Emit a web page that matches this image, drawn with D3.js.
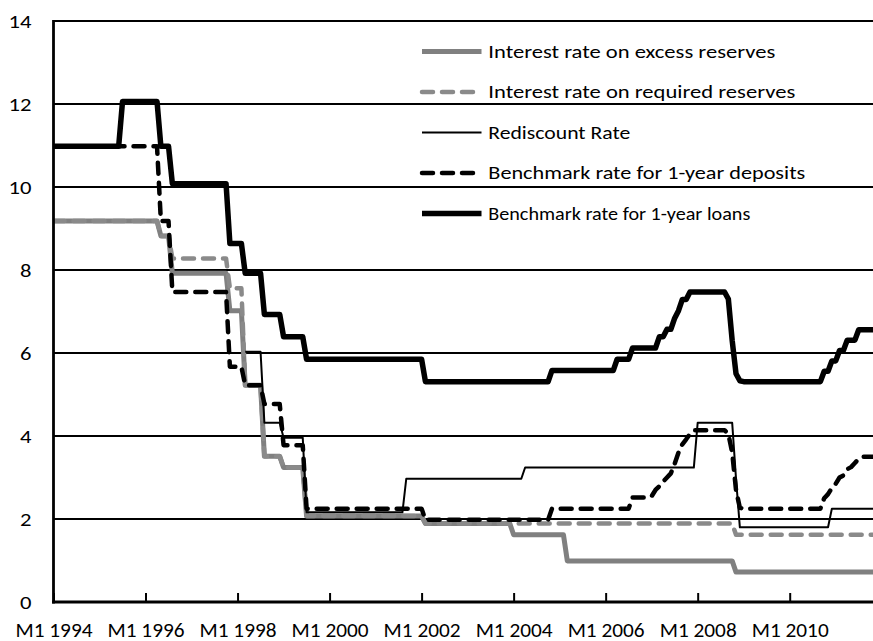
<!DOCTYPE html>
<html><head><meta charset="utf-8">
<script src="https://cdn.jsdelivr.net/npm/d3@7"></script>
<style>body{margin:0;background:#fff} svg{display:block;background:#fff}</style>
</head><body>
<svg id="chart" width="873" height="641"></svg>
<script>
// ---------- data ----------
const startYear = 1994;
const nMonths = 215; // M1 1994 .. M11 2011
const xTickIdx = [0, 24, 48, 72, 96, 120, 144, 168, 192];
const xTickLabels = ["M1 1994","M1 1996","M1 1998","M1 2000","M1 2002","M1 2004","M1 2006","M1 2008","M1 2010"];
const yTicks = [0, 2, 4, 6, 8, 10, 12, 14];
const seriesNames = [
  "Interest rate on excess reserves",
  "Interest rate on required reserves",
  "Rediscount Rate",
  "Benchmark rate for 1-year deposits",
  "Benchmark rate for 1-year loans"
];
// monthly values given as [first month, value] change points (value holds until next change)
const excessReserves = [
  ["1994-01",9.18],["1996-05",8.82],["1996-08",7.92],["1997-11",7.02],["1998-03",5.22],
  ["1998-08",3.51],["1999-01",3.24],["1999-07",2.07],["2002-02",1.89],["2004-01",1.62],
  ["2005-03",0.99],["2008-11",0.72]
];
const requiredReserves = [
  ["1994-01",9.18],["1996-05",8.82],["1996-08",8.28],["1997-11",7.56],["1998-03",5.22],
  ["1998-08",3.51],["1999-01",3.24],["1999-07",2.07],["2002-02",1.89],["2008-11",1.62]
];
const rediscountRate = [
  ["1998-03",6.03],["1998-08",4.32],["1999-01",3.96],["1999-07",2.16],["2001-09",2.97],
  ["2004-04",3.24],["2008-01",4.32],["2008-11",2.97],["2008-12",1.80],["2010-12",2.25]
];
const depositRate = [
  ["1994-01",10.98],["1996-05",9.18],["1996-08",7.47],["1997-11",5.67],["1998-03",5.22],
  ["1998-08",4.77],["1999-01",3.78],["1999-07",2.25],["2002-02",1.98],["2004-11",2.25],
  ["2006-08",2.52],["2007-01",2.55],["2007-02",2.70],["2007-03",2.79],["2007-04",2.90],
  ["2007-05",3.00],["2007-06",3.10],["2007-07",3.33],["2007-08",3.60],["2007-09",3.80],
  ["2007-10",3.92],["2007-11",4.05],["2007-12",4.14],["2008-09",4.05],["2008-10",3.60],
  ["2008-11",2.70],["2008-12",2.27],["2009-01",2.25],["2010-10",2.50],["2010-11",2.60],
  ["2010-12",2.75],["2011-01",2.85],["2011-02",3.00],["2011-03",3.05],["2011-04",3.20],
  ["2011-05",3.25],["2011-06",3.35],["2011-07",3.45],["2011-08",3.50]
];
const loanRate = [
  ["1994-01",10.98],["1995-07",12.06],["1996-05",10.98],["1996-08",10.08],["1997-11",8.64],
  ["1998-03",7.92],["1998-08",6.93],["1999-01",6.39],["1999-07",5.85],["2002-02",5.31],
  ["2004-11",5.58],["2006-04",5.85],["2006-08",6.12],["2007-03",6.39],["2007-05",6.57],
  ["2007-07",6.84],["2007-08",7.02],["2007-09",7.29],["2007-11",7.47],["2008-09",7.30],
  ["2008-10",6.30],["2008-11",5.50],["2008-12",5.33],["2009-01",5.31],["2010-10",5.56],
  ["2010-12",5.81],["2011-02",6.06],["2011-04",6.31],["2011-07",6.56]
];

// ---------- build monthly arrays ----------
function monthIndex(s){ const [yy,mm] = s.split("-").map(Number); return (yy-startYear)*12 + (mm-1); }
function expand(changes){
  const out = new Array(nMonths).fill(null);
  changes.forEach(([m,v], k) => {
    const a = monthIndex(m);
    const b = k+1 < changes.length ? monthIndex(changes[k+1][0]) : nMonths;
    for (let i=a;i<b;i++) out[i] = v;
  });
  return out;
}
const series = [
  {name: seriesNames[0], values: expand(excessReserves),  color:"#808080", width:5,   dash:null},
  {name: seriesNames[1], values: expand(requiredReserves), color:"#8a8a8a", width:4.5, dash:"11,9"},
  {name: seriesNames[2], values: expand(rediscountRate),   color:"#000",    width:2,   dash:null},
  {name: seriesNames[3], values: expand(depositRate),      color:"#000",    width:4.5, dash:"11,9"},
  {name: seriesNames[4], values: expand(loanRate),         color:"#000",    width:5.5, dash:null}
];

// ---------- chart ----------
const svg = d3.select("#chart");
const FONT = "Carlito, Calibri, Lato, sans-serif";
const plotL = 53.5, plotR = 873, plotT = 21, plotB = 602;
const x = d3.scaleLinear().domain([0, 192]).range([plotL, 789.7]);
const y = d3.scaleLinear().domain([0, 14]).range([plotB, plotT]);

svg.append("defs").append("clipPath").attr("id","plotclip")
  .append("rect").attr("x", plotL).attr("y", 0).attr("width", plotR-plotL).attr("height", 641);

// gridlines
svg.append("g").selectAll("line").data(yTicks.filter(d=>d>0)).join("line")
  .attr("x1", plotL).attr("x2", plotR)
  .attr("y1", d=>y(d)).attr("y2", d=>y(d))
  .attr("stroke","#000").attr("stroke-width",2);

// y labels
svg.append("g").selectAll("text").data(yTicks).join("text")
  .attr("x", 31.5).attr("y", d=>y(d)+6.5)
  .attr("text-anchor","end")
  .attr("font-family", FONT).attr("font-size", 18.5)
  .attr("fill","#000")
  .attr("textLength", d => String(d).length > 1 ? 23 : 11.5)
  .attr("lengthAdjust","spacingAndGlyphs")
  .text(d=>d);

// series lines
const g = svg.append("g").attr("clip-path","url(#plotclip)");
series.forEach(s => {
  const pts = s.values.map((v,i)=>({i, v}));
  const ln = d3.line().defined(d=>d.v!=null).x(d=>x(d.i)).y(d=>y(d.v));
  g.append("path").attr("d", ln(pts))
    .attr("fill","none").attr("stroke", s.color).attr("stroke-width", s.width)
    .attr("stroke-linejoin","round")
    .attr("stroke-linecap", s.dash ? "round" : "butt")
    .attr("stroke-dasharray", s.dash);
});

// axes
svg.append("line").attr("x1", plotL).attr("x2", plotL).attr("y1", plotT-1).attr("y2", plotB+1.5)
  .attr("stroke","#000").attr("stroke-width",2.8);
const xAxis = d3.axisBottom(x).tickValues(xTickIdx)
  .tickFormat((d,i)=>xTickLabels[i]).tickSizeInner(-9).tickSizeOuter(0).tickPadding(22);
const ax = svg.append("g").attr("transform", `translate(0,${plotB})`).call(xAxis);
ax.select(".domain").remove();
ax.selectAll(".tick line").attr("stroke","#000").attr("stroke-width",2);
ax.selectAll(".tick text").attr("font-family", FONT).attr("font-size", 19.5).attr("fill","#000")
  .attr("dy", 0).attr("y", 35)
  .attr("textLength", 77).attr("lengthAdjust","spacingAndGlyphs");
svg.append("line").attr("x1", plotL-1.4).attr("x2", plotR).attr("y1", plotB).attr("y2", plotB)
  .attr("stroke","#000").attr("stroke-width",2.8);

// legend
const legendTextWidths = [287, 307, 142, 317, 262];
const lg = svg.append("g");
series.forEach((s,k) => {
  const cy = 51.5 + 40.5*k;
  lg.append("line").attr("x1", 422).attr("x2", 481.5).attr("y1", cy).attr("y2", cy)
    .attr("stroke", s.color).attr("stroke-width", s.width)
    .attr("stroke-linecap", s.dash ? "round" : "butt")
    .attr("stroke-dasharray", s.dash);
  lg.append("text").attr("x", 488.3).attr("y", cy+6)
    .attr("font-family", FONT).attr("font-size", 17.5).attr("fill","#000")
    .attr("textLength", legendTextWidths[k]).attr("lengthAdjust","spacingAndGlyphs")
    .text(s.name);
});
</script>
</body></html>
